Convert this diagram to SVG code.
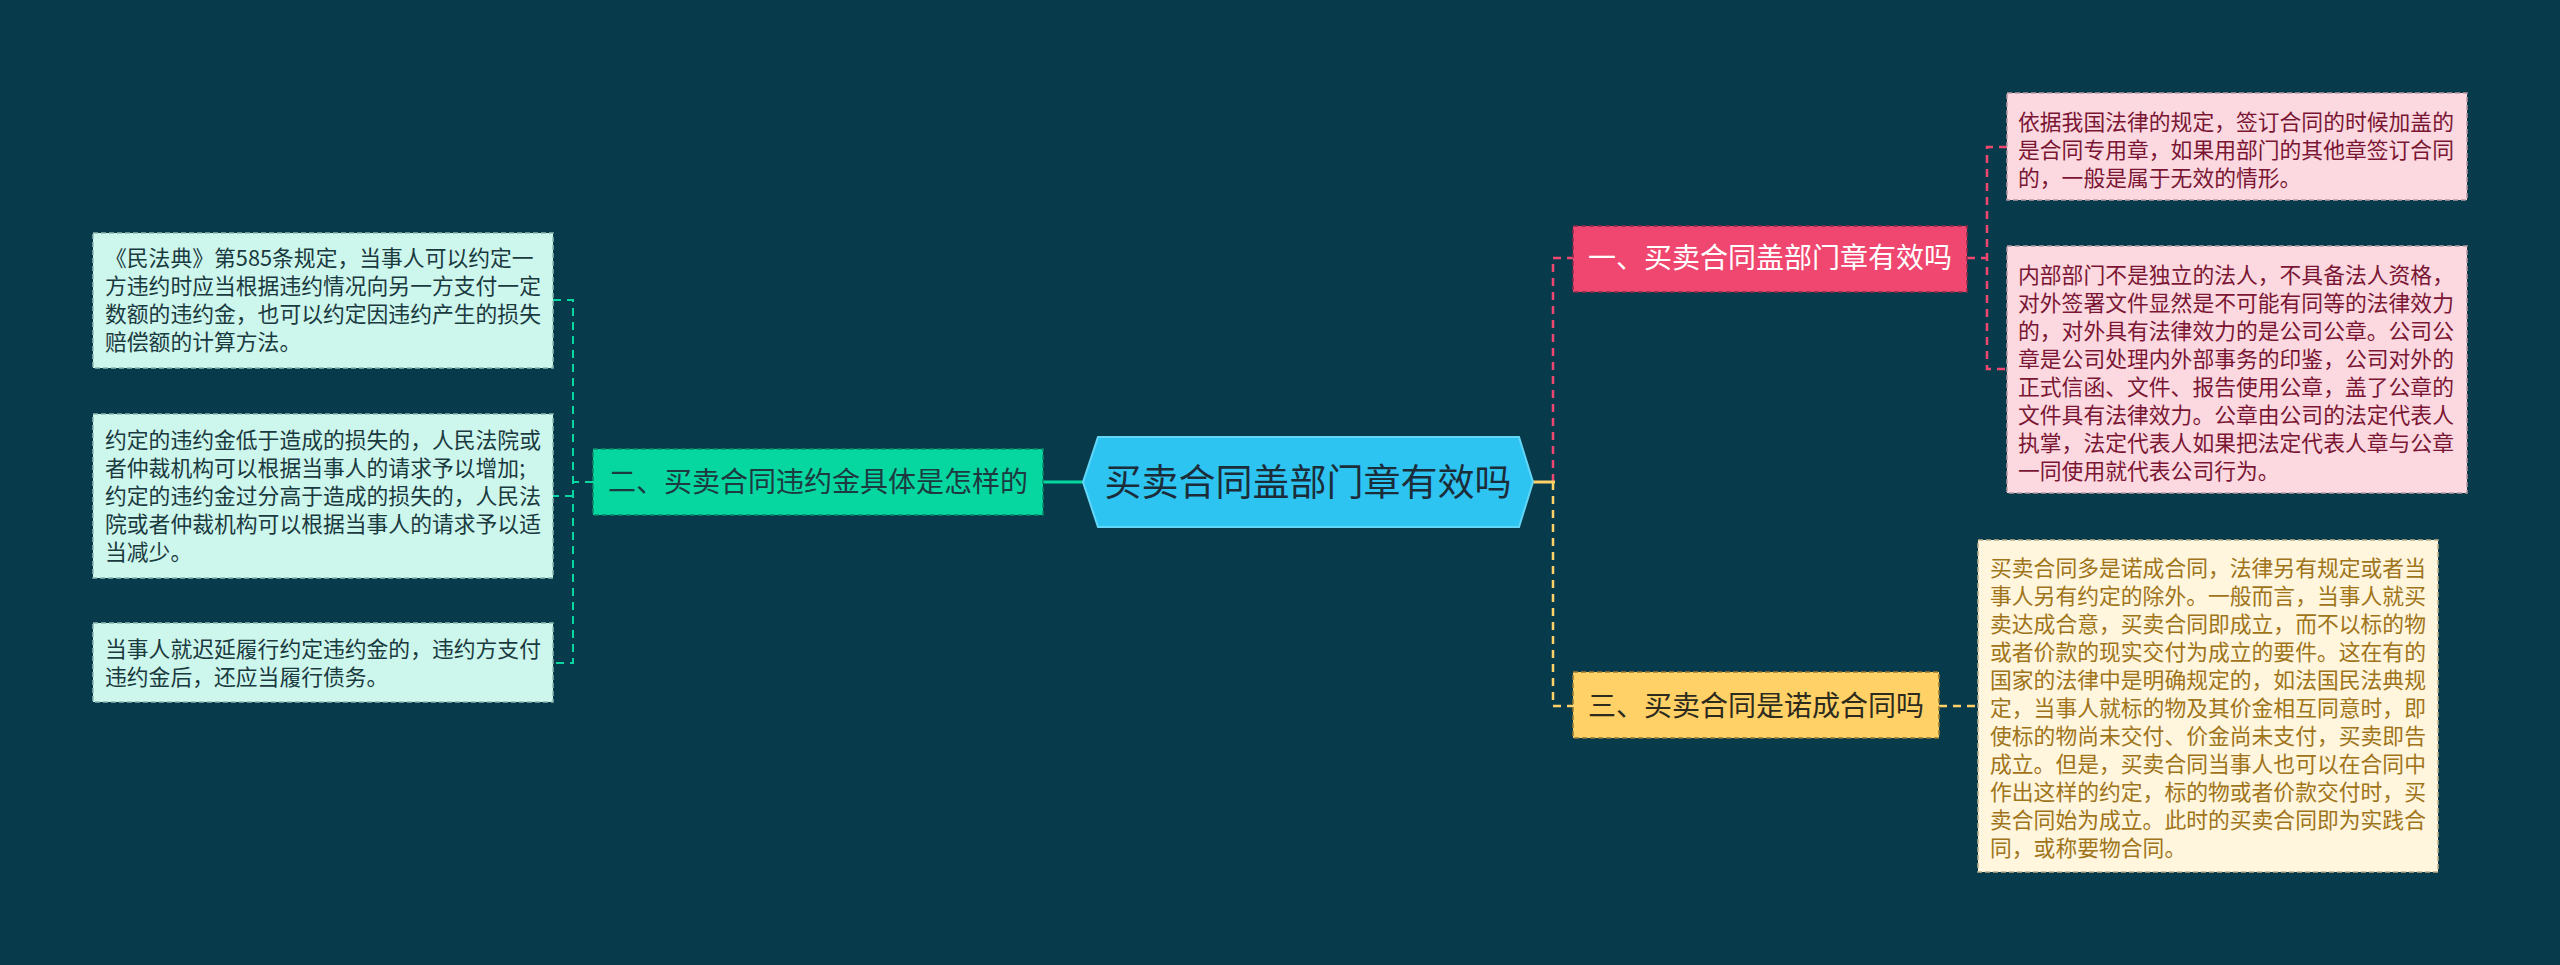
<svg xmlns="http://www.w3.org/2000/svg" width="2560" height="965" viewBox="0 0 2560 965">
<style>
text{font-family:"Noto Sans CJK SC","Noto Sans",sans-serif;}
.leaf{font-size:21.8px;}
.br{font-size:28px;text-anchor:middle;}
.c-g{fill:none;stroke:#06d6a0;stroke-width:2;stroke-dasharray:8 6;}
.c-p{fill:none;stroke:#ef476f;stroke-width:2.5;stroke-dasharray:8 6;}
.c-y{fill:none;stroke:#ffd166;stroke-width:2.5;stroke-dasharray:8 6;}
</style>
<rect x="0" y="0" width="2560" height="965" fill="#073b4c"/>
<g id="connectors">
<line x1="1043" y1="482" x2="1083" y2="482" stroke="#06d6a0" stroke-width="3"/>
<path class="c-g" d="M593,482 H573"/>
<path class="c-g" d="M553,300 H573 V663 H553"/>
<path class="c-g" d="M573,496 H553"/>
<path class="c-p" d="M1553,482 V258 H1573"/>
<path class="c-y" d="M1553,482 V706 H1573"/>
<line x1="1533" y1="482" x2="1555" y2="482" stroke="#ffd166" stroke-width="3"/>
<path class="c-p" d="M1967,258 H1987"/>
<path class="c-p" d="M2007,147 H1987 V369 H2007"/>
<path class="c-y" d="M1939,706 H1978"/>
</g>
<g id="center">
<polygon points="1083,482 1098,437 1519,437 1533,482 1519,527 1098,527" fill="#2ec4f2" stroke="#63d6f7" stroke-width="2"/>
<text x="1308" y="496" font-size="37" text-anchor="middle" fill="#1c2d3a">买卖合同盖部门章有效吗</text>
</g>
<g id="branch1">
<rect x="1573" y="226" width="394" height="66" fill="#ef476f" stroke="#8a2d4a" stroke-width="1.5" stroke-dasharray="5 3"/>
<text class="br" x="1770" y="268" fill="#ffffff">一、买卖合同盖部门章有效吗</text>
</g>
<g id="branch2">
<rect x="593" y="449" width="450" height="66" fill="#06d6a0" stroke="#0a8a6a" stroke-width="1.5" stroke-dasharray="5 3"/>
<text class="br" x="818" y="492" fill="#1d3a40">二、买卖合同违约金具体是怎样的</text>
</g>
<g id="branch3">
<rect x="1573" y="672" width="366" height="66" fill="#ffd166" stroke="#9a7a30" stroke-width="1.5" stroke-dasharray="5 3"/>
<text class="br" x="1756" y="716" fill="#2d2a1e">三、买卖合同是诺成合同吗</text>
</g>
<g id="leaf-l1">
<rect x="93" y="233" width="460" height="135" fill="#cdf6ec" stroke="#8fb8b0" stroke-width="1.5" stroke-dasharray="5 3"/>
<text class="leaf" fill="#1a3a40"><tspan x="105" y="266">《民法典》第585条规定，当事人可以约定一</tspan><tspan x="105" y="294">方违约时应当根据违约情况向另一方支付一定</tspan><tspan x="105" y="322">数额的违约金，也可以约定因违约产生的损失</tspan><tspan x="105" y="350">赔偿额的计算方法。</tspan></text>
</g>
<g id="leaf-l2">
<rect x="93" y="414" width="460" height="164" fill="#cdf6ec" stroke="#8fb8b0" stroke-width="1.5" stroke-dasharray="5 3"/>
<text class="leaf" fill="#1a3a40"><tspan x="105" y="448">约定的违约金低于造成的损失的，人民法院或</tspan><tspan x="105" y="476">者仲裁机构可以根据当事人的请求予以增加;</tspan><tspan x="105" y="504">约定的违约金过分高于造成的损失的，人民法</tspan><tspan x="105" y="532">院或者仲裁机构可以根据当事人的请求予以适</tspan><tspan x="105" y="560">当减少。</tspan></text>
</g>
<g id="leaf-l3">
<rect x="93" y="623" width="460" height="79" fill="#cdf6ec" stroke="#8fb8b0" stroke-width="1.5" stroke-dasharray="5 3"/>
<text class="leaf" fill="#1a3a40"><tspan x="105" y="657">当事人就迟延履行约定违约金的，违约方支付</tspan><tspan x="105" y="685">违约金后，还应当履行债务。</tspan></text>
</g>
<g id="leaf-r1">
<rect x="2007" y="93" width="460" height="107" fill="#fcd9e0" stroke="#b89aa2" stroke-width="1.5" stroke-dasharray="5 3"/>
<text class="leaf" fill="#7a1634"><tspan x="2018" y="130">依据我国法律的规定，签订合同的时候加盖的</tspan><tspan x="2018" y="158">是合同专用章，如果用部门的其他章签订合同</tspan><tspan x="2018" y="186">的，一般是属于无效的情形。</tspan></text>
</g>
<g id="leaf-r2">
<rect x="2007" y="246" width="460" height="247" fill="#fcd9e0" stroke="#b89aa2" stroke-width="1.5" stroke-dasharray="5 3"/>
<text class="leaf" fill="#7a1634"><tspan x="2018" y="283">内部部门不是独立的法人，不具备法人资格，</tspan><tspan x="2018" y="311">对外签署文件显然是不可能有同等的法律效力</tspan><tspan x="2018" y="339">的，对外具有法律效力的是公司公章。公司公</tspan><tspan x="2018" y="367">章是公司处理内外部事务的印鉴，公司对外的</tspan><tspan x="2018" y="395">正式信函、文件、报告使用公章，盖了公章的</tspan><tspan x="2018" y="423">文件具有法律效力。公章由公司的法定代表人</tspan><tspan x="2018" y="451">执掌，法定代表人如果把法定代表人章与公章</tspan><tspan x="2018" y="479">一同使用就代表公司行为。</tspan></text>
</g>
<g id="leaf-r3">
<rect x="1978" y="540" width="460" height="332" fill="#fff6dd" stroke="#c0b08a" stroke-width="1.5" stroke-dasharray="5 3"/>
<text class="leaf" fill="#a0741a"><tspan x="1990" y="576">买卖合同多是诺成合同，法律另有规定或者当</tspan><tspan x="1990" y="604">事人另有约定的除外。一般而言，当事人就买</tspan><tspan x="1990" y="632">卖达成合意，买卖合同即成立，而不以标的物</tspan><tspan x="1990" y="660">或者价款的现实交付为成立的要件。这在有的</tspan><tspan x="1990" y="688">国家的法律中是明确规定的，如法国民法典规</tspan><tspan x="1990" y="716">定，当事人就标的物及其价金相互同意时，即</tspan><tspan x="1990" y="744">使标的物尚未交付、价金尚未支付，买卖即告</tspan><tspan x="1990" y="772">成立。但是，买卖合同当事人也可以在合同中</tspan><tspan x="1990" y="800">作出这样的约定，标的物或者价款交付时，买</tspan><tspan x="1990" y="828">卖合同始为成立。此时的买卖合同即为实践合</tspan><tspan x="1990" y="856">同，或称要物合同。</tspan></text>
</g>
</svg>
